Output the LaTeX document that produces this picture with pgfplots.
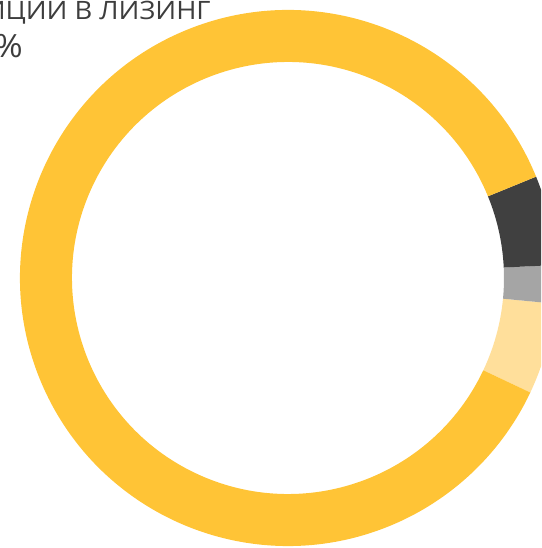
\documentclass[border=0pt]{standalone}
\usepackage{pgfplots}
\pgfplotsset{compat=1.18}
\usepackage{pgfplotstable}
\usepackage{fontspec}
\setmainfont{Open Sans}[FakeStretch=1.08]

\definecolor{donutyellow}{HTML}{FFC436}
\definecolor{donutdark}{HTML}{404040}
\definecolor{donutgray}{HTML}{A5A5A5}
\definecolor{donutlight}{HTML}{FFDF9B}
\definecolor{textgray}{HTML}{3D3D3D}

% shares in %, counterclockwise from the start angle
\pgfplotstableread{
segment share colour
s1 5.5 donutlight
s2 2.3 donutgray
s3 5.4 donutdark
s4 86.8 donutyellow
}\donutdata

\def\outerr{268}
\def\innerr{216}

\begin{document}
\begin{tikzpicture}[x=0.75pt,y=0.75pt]
\useasboundingbox (0,0) rectangle (541,548);
\begin{axis}[
    at={(0,0)}, anchor=south west,
    scale only axis,
    width=405.75pt, height=411pt,
    xmin=-288, xmax=253,
    ymin=-270, ymax=278,
    hide axis,
    clip=true,
]
\pgfplotstablegetrowsof{\donutdata}
\pgfmathtruncatemacro{\lastrow}{\pgfplotsretval-1}
\xdef\startangle{-25.3}
\pgfplotsinvokeforeach{0,...,\lastrow}{
  \pgfplotstablegetelem{#1}{share}\of{\donutdata}
  \pgfmathsetmacro{\endangle}{\startangle+3.6*\pgfplotsretval}
  \pgfplotstablegetelem{#1}{colour}\of{\donutdata}
  \edef\segcolour{\pgfplotsretval}
  \pgfmathsetmacro{\oxs}{\outerr*cos(\startangle)}
  \pgfmathsetmacro{\oys}{\outerr*sin(\startangle)}
  \pgfmathsetmacro{\ixe}{\innerr*cos(\endangle)}
  \pgfmathsetmacro{\iye}{\innerr*sin(\endangle)}
  \edef\doit{\noexpand\fill[\segcolour]
    (axis cs:\oxs,\oys)
    arc[start angle=\startangle, end angle=\endangle, radius=0.75*\outerr pt]
    -- (axis cs:\ixe,\iye)
    arc[start angle=\endangle, end angle=\startangle, radius=0.75*\innerr pt]
    -- cycle;}
  \doit
  \xdef\startangle{\endangle}
}
\end{axis}
\node[anchor=base east, inner sep=0, text=textgray,
      font=\fontsize{19}{22}\selectfont] at (211,528) {ИНВЕСТИЦИИ В ЛИЗИНГ};
\node[anchor=base east, inner sep=0, text=textgray,
      font=\fontsize{24}{28}\selectfont] at (23,490) {87\%};
\end{tikzpicture}
\end{document}
